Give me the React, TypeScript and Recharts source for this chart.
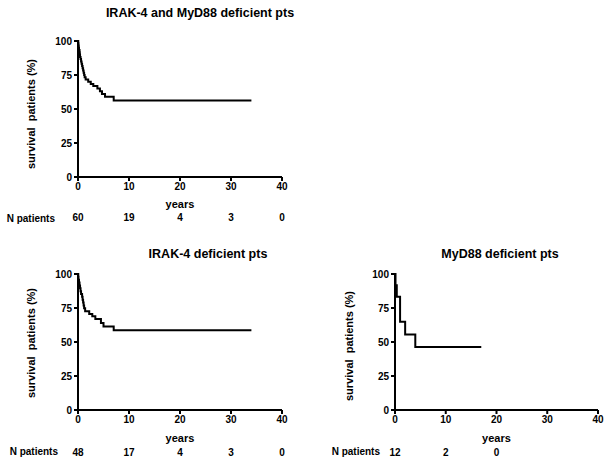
import React from 'react';
import { LineChart, Line, XAxis, YAxis } from 'recharts';

// Kaplan-Meier steps (years, % surviving)
const allTimes = [0, 0.05, 0.1, 0.15, 0.2, 0.3, 0.35, 0.4, 0.5, 0.6, 0.7, 0.8, 0.9, 1.0, 1.1, 1.2, 1.3, 1.5, 2.0, 2.5, 3.0, 3.8, 4.3, 4.7, 5.3, 7.0, 34];
const allSurvival = [100, 98.3, 96.7, 95, 93.3, 91.7, 90, 88.3, 86.7, 85, 83.3, 81.7, 80, 78.3, 76.7, 75, 73.3, 71.7, 70, 68.3, 67, 65, 63, 61, 59, 56.2, 56.2];

const irakTimes = [0, 0.05, 0.1, 0.2, 0.3, 0.4, 0.5, 0.6, 0.8, 0.9, 1.0, 1.1, 1.2, 1.4, 2.2, 2.8, 3.4, 4.5, 5.0, 7.0, 34];
const irakSurvival = [100, 97.9, 95.8, 93.7, 91.6, 89.5, 87.4, 85.3, 83.2, 81.1, 79, 76.9, 74.8, 72.6, 70.5, 69, 67, 64, 61.4, 58.6, 58.6];

const myd88Times = [0, 0.1, 0.35, 1.0, 2.0, 4.0, 17];
const myd88Survival = [100, 91.7, 83.3, 64.8, 55.6, 46.3, 46.3];

const yearTicks = [0, 10, 20, 30, 40];
const survivalTicks = [0, 25, 50, 75, 100];

const allAtRiskTicks = [0, 10, 20, 30, 40];
const allAtRisk = [60, 19, 4, 3, 0];
const irakAtRiskTicks = [0, 10, 20, 30, 40];
const irakAtRisk = [48, 17, 4, 3, 0];
const myd88AtRiskTicks = [0, 10, 20];
const myd88AtRisk = [12, 2, 0];

const FONT = '"Liberation Sans", Arial, Helvetica, sans-serif';

const YLabel = ({ viewBox, labelX, shift }: any) => {
  const x = viewBox.x + labelX;
  const y = viewBox.y + viewBox.height / 2 + shift;
  return (
    <text
      x={x}
      y={y}
      transform={`rotate(-90 ${x} ${y})`}
      textAnchor="middle"
      dominantBaseline="central"
      fill="#000"
      fontSize={11}
      fontWeight={700}
      fontFamily={FONT}
      style={{ whiteSpace: 'pre' }}
    >
      survival  patients (%)
    </text>
  );
};

interface KMProps {
  times: number[];
  survival: number[];
  riskTicks: number[];
  atRisk: number[];
  width: number;
  height: number;
  axisWidth: number;
  top: number;
  right: number;
  bottom: number;
  yLabelX: number;
  yLabelShift: number;
  nOffset: number;
  yearsOffset: number;
  nMargin: number;
}

function KMChart(p: KMProps) {
  const data = p.times.map((t, i) => ({ t, s: p.survival[i] }));
  const tickStyle = { fill: '#000', fontSize: 10, fontWeight: 700, fontFamily: FONT };
  return (
    <LineChart
      width={p.width}
      height={p.height}
      data={data}
      margin={{ top: p.top, right: p.right, left: 0, bottom: p.bottom }}
    >
      <XAxis
        dataKey="t"
        type="number"
        domain={[0, 40]}
        ticks={yearTicks}
        interval={0}
        height={32}
        stroke="#000"
        strokeWidth={2}
        tickSize={4}
        tickMargin={2}
        tick={tickStyle}
        label={{
          value: 'years',
          position: 'insideBottom',
          offset: p.yearsOffset,
          fill: '#000',
          fontSize: 11,
          fontWeight: 700,
          fontFamily: FONT,
        }}
      />
      <XAxis
        xAxisId="n"
        dataKey="t"
        type="number"
        domain={[0, 40]}
        ticks={p.riskTicks}
        interval={0}
        height={18}
        axisLine={false}
        tickLine={false}
        tickSize={0}
        tickMargin={p.nMargin}
        tick={tickStyle}
        tickFormatter={(v: number) => String(p.atRisk[p.riskTicks.indexOf(v)])}
        label={{
          value: 'N patients',
          position: 'left',
          offset: p.nOffset,
          fill: '#000',
          fontSize: 10,
          fontWeight: 700,
          fontFamily: FONT,
        }}
      />
      <YAxis
        type="number"
        domain={[0, 100]}
        ticks={survivalTicks}
        interval={0}
        width={p.axisWidth}
        stroke="#000"
        strokeWidth={2}
        tickSize={4}
        tickMargin={2}
        tick={tickStyle}
        label={<YLabel labelX={p.yLabelX} shift={p.yLabelShift} />}
      />
      <Line
        type="stepAfter"
        dataKey="s"
        stroke="#000"
        strokeWidth={2}
        dot={false}
        activeDot={false}
        isAnimationActive={false}
      />
    </LineChart>
  );
}

const titleStyle = (cx: number, top: number): React.CSSProperties => ({
  position: 'absolute',
  left: cx - 150,
  top,
  width: 300,
  textAlign: 'center',
  fontFamily: FONT,
  fontWeight: 700,
  fontSize: 12.5,
  lineHeight: '14px',
  color: '#000',
});

export default function App() {
  return (
    <div style={{ position: 'absolute', left: 0, top: 0, width: 610, height: 466, background: '#fff', overflow: 'hidden' }}>
      <div style={titleStyle(200, 6)}>IRAK-4 and MyD88 deficient pts</div>
      <div style={titleStyle(208, 247)}>IRAK-4 deficient pts</div>
      <div style={titleStyle(500, 247)}>MyD88 deficient pts</div>

      <div style={{ position: 'absolute', left: 0, top: 0 }}>
        <KMChart
          times={allTimes}
          survival={allSurvival}
          riskTicks={allAtRiskTicks}
          atRisk={allAtRisk}
          width={300}
          height={230}
          axisWidth={78}
          top={41}
          right={18}
          bottom={3}
          yLabelX={31}
          yLabelShift={5}
          nOffset={23}
          yearsOffset={1}
          nMargin={5}
        />
      </div>
      <div style={{ position: 'absolute', left: 0, top: 230 }}>
        <KMChart
          times={irakTimes}
          survival={irakSurvival}
          riskTicks={irakAtRiskTicks}
          atRisk={irakAtRisk}
          width={300}
          height={236}
          axisWidth={78}
          top={44}
          right={18}
          bottom={6}
          yLabelX={31}
          yLabelShift={1}
          nOffset={20}
          yearsOffset={0}
          nMargin={7}
        />
      </div>
      <div style={{ position: 'absolute', left: 300, top: 230 }}>
        <KMChart
          times={myd88Times}
          survival={myd88Survival}
          riskTicks={myd88AtRiskTicks}
          atRisk={myd88AtRisk}
          width={310}
          height={236}
          axisWidth={95}
          top={44}
          right={12}
          bottom={6}
          yLabelX={49}
          yLabelShift={4}
          nOffset={15}
          yearsOffset={0}
          nMargin={7}
        />
      </div>
    </div>
  );
}
